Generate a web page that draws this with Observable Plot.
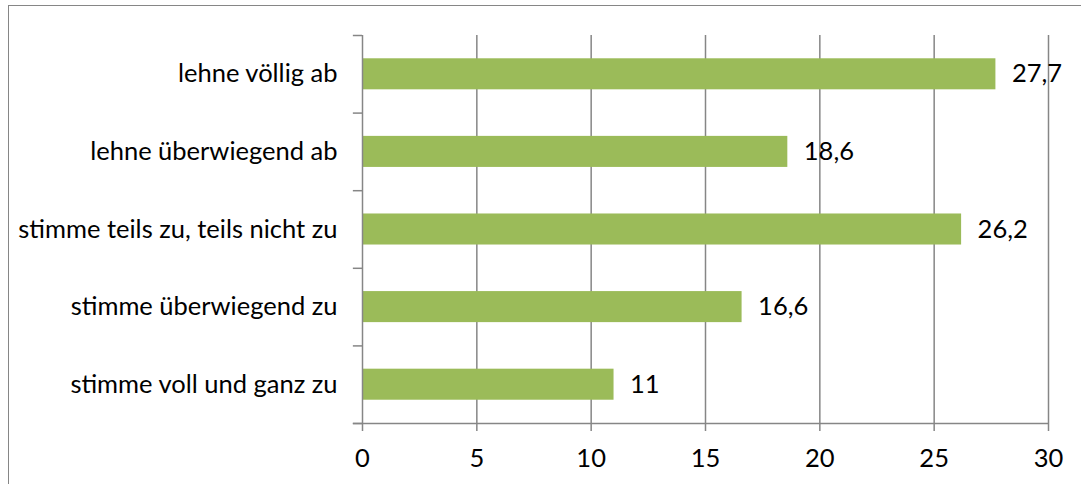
<!DOCTYPE html>
<html><head><meta charset="utf-8">
<script src="https://cdn.jsdelivr.net/npm/d3@7"></script>
<script src="https://cdn.jsdelivr.net/npm/@observablehq/plot@0.6"></script>
<style>
html,body{margin:0;padding:0;background:#fff;overflow:hidden;}
#wrap{position:relative;width:1081px;height:484px;overflow:hidden;}
#border{position:absolute;left:8px;top:5px;width:1100px;height:520px;border:1.5px solid #868686;box-sizing:border-box;}
#chart{position:absolute;left:0;top:0;}
</style></head><body>
<div id="wrap"><div id="border"></div><div id="chart"></div></div>
<script>
const categories = [
  "lehne völlig ab",
  "lehne überwiegend ab",
  "stimme teils zu, teils nicht zu",
  "stimme überwiegend zu",
  "stimme voll und ganz zu"
];
const values = [27.7, 18.6, 26.2, 16.6, 11];
const xTicks = [0, 5, 10, 15, 20, 25, 30];

const data = categories.map((c, i) => ({category: c, value: values[i], index: i}));
const fmt = v => String(v).replace(".", ",");
const n = categories.length;
const axisColor = "#868686";

const chart = Plot.plot({
  width: 1081, height: 484,
  marginLeft: 362, marginRight: 33, marginTop: 35, marginBottom: 61,
  style: {fontFamily: "Lato", fontSize: "25.5px", color: "#000", background: "transparent"},
  x: {domain: [0, 30], label: null},
  y: {domain: [n, 0], axis: null},
  marks: [
    Plot.gridX(xTicks.filter(t => t > 0), {stroke: axisColor, strokeOpacity: 1, strokeWidth: 1.5}),
    Plot.rectX(data, {x1: 0, x2: "value", y1: d => d.index + 0.3, y2: d => d.index + 0.7, fill: "#9BBB59"}),
    Plot.ruleX([0], {stroke: axisColor, strokeWidth: 1.5}),
    Plot.ruleY([n], {x1: -0.4, x2: 30, stroke: axisColor, strokeWidth: 1.5}),
    Plot.ruleY(d3.range(0, n + 1), {y: d => d, x1: -0.4, x2: 0, stroke: axisColor, strokeWidth: 1.5}),
    Plot.axisX(xTicks, {tickSize: 8, tickPadding: 17, stroke: axisColor, strokeWidth: 1.5, label: null, tickFormat: d => String(d)}),
    Plot.text(data, {x: 0, y: d => d.index + 0.5, text: "category", textAnchor: "end", dx: -25}),
    Plot.text(data, {x: "value", y: d => d.index + 0.5, text: d => fmt(d.value), textAnchor: "start", dx: 16})
  ]
});
document.getElementById("chart").appendChild(chart);
</script>
</body></html>
